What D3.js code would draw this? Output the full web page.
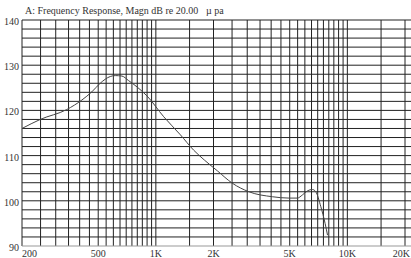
<!DOCTYPE html>
<html>
<head>
<meta charset="utf-8">
<script src="https://cdn.jsdelivr.net/npm/d3@7"></script>
<style>
  body { margin: 0; background: #fff; }
  text { font-family: "Liberation Serif", "DejaVu Serif", serif; fill: #333; }
</style>
</head>
<body>
<svg id="chart" width="411" height="258"></svg>
<script>
// frequency response curve (Hz, dB)
var freqs = [200, 249, 343, 411, 463, 512, 578, 614, 665, 720, 797, 899, 1099, 1343, 1576, 1794, 2099, 2507, 3062, 4058, 4960, 5484, 5825, 6190, 6574, 6840, 7270, 7652, 7880];
var levels = [116.0, 118.0, 120.2, 122.3, 124.1, 126.0, 127.5, 127.7, 127.6, 126.6, 125.2, 123.2, 118.6, 114.6, 111.2, 109.0, 106.6, 103.9, 102.0, 100.9, 100.6, 100.6, 101.3, 102.2, 102.5, 102.0, 98.7, 95.0, 92.4];

var xTickValues = [200, 500, 1000, 2000, 5000, 10000, 20000];
var xTickLabels = ["200", "500", "1K", "2K", "5K", "10K", "20K"];
var yTickValues = [90, 100, 110, 120, 130, 140];

var svg = d3.select("#chart");

var x = d3.scaleLog().domain([200, 20000]).range([22, 405]);
var y = d3.scaleLinear().domain([90, 140]).range([246, 20]);

// vertical grid: 50 Hz steps to 1K, 500 Hz steps to 10K, then 15K
var vLines = d3.range(250, 1001, 50)
  .concat(d3.range(1500, 10001, 500))
  .concat([15000, 20000]);
var hLines = d3.range(92, 141, 2);

var grid = svg.append("g");

grid.selectAll(".h")
  .data(hLines)
  .enter()
  .append("line")
  .attr("x1", 22)
  .attr("x2", 411)
  .attr("y1", function (d) { return y(d); })
  .attr("y2", function (d) { return y(d); })
  .attr("stroke", "#222")
  .attr("stroke-width", 1);

grid.selectAll(".v")
  .data(vLines)
  .enter()
  .append("line")
  .attr("x1", function (d) { return x(d); })
  .attr("x2", function (d) { return x(d); })
  .attr("y1", y(140))
  .attr("y2", y(90))
  .attr("stroke", "#222")
  .attr("stroke-width", 1);

// frame: left and bottom
svg.append("line")
  .attr("x1", 22).attr("x2", 22)
  .attr("y1", y(140)).attr("y2", y(90))
  .attr("stroke", "#222");
svg.append("line")
  .attr("x1", 22).attr("x2", 411)
  .attr("y1", y(90)).attr("y2", y(90))
  .attr("stroke", "#999");

// curve
var line = d3.line()
  .x(function (d) { return x(d[0]); })
  .y(function (d) { return y(d[1]); })
  .curve(d3.curveMonotoneX);

svg.append("path")
  .datum(d3.zip(freqs, levels))
  .attr("d", line)
  .attr("fill", "none")
  .attr("stroke", "#444")
  .attr("stroke-width", 1);

// y labels
svg.selectAll(".ylab")
  .data(yTickValues)
  .enter()
  .append("text")
  .attr("x", 19)
  .attr("y", function (d) { return y(d) + 5; })
  .attr("text-anchor", "end")
  .style("font-size", "10px")
  .text(function (d) { return d; });

// x labels (first and last kept inside the picture)
var last = xTickValues.length - 1;
svg.selectAll(".xlab")
  .data(xTickValues)
  .enter()
  .append("text")
  .attr("x", function (d, i) { return i === 0 ? 22 : (i === last ? 410 : x(d)); })
  .attr("y", 257)
  .attr("text-anchor", function (d, i) { return i === 0 ? "start" : (i === last ? "end" : "middle"); })
  .style("font-size", "10px")
  .text(function (d, i) { return xTickLabels[i]; });

// title
svg.append("text")
  .attr("x", 25)
  .attr("y", 14)
  .style("font-size", "10px")
  .text("A: Frequency Response, Magn dB re 20.00");
svg.append("text")
  .attr("x", 206)
  .attr("y", 14)
  .style("font-size", "10px")
  .text("\u00b5 pa");
</script>
</body>
</html>
